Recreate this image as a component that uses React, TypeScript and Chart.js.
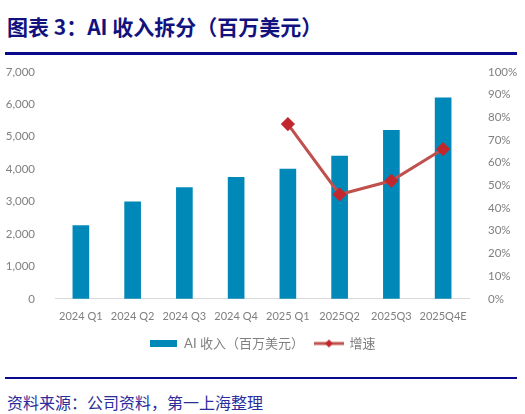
import { useEffect, useRef } from 'react';
import Chart from 'chart.js/auto';

const quarters = ['2024 Q1', '2024 Q2', '2024 Q3', '2024 Q4', '2025 Q1', '2025Q2', '2025Q3', '2025Q4E'];
const aiRevenue = [2260, 2990, 3430, 3750, 4000, 4400, 5200, 6200];
const growth = [null, null, null, null, 0.77, 0.46, 0.52, 0.66];
const leftTicks = [0, 1000, 2000, 3000, 4000, 5000, 6000, 7000];
const rightTicks = [0, 0.1, 0.2, 0.3, 0.4, 0.5, 0.6, 0.7, 0.8, 0.9, 1];

const BAR_COLOR = '#0088B8';
const LINE_COLOR = '#C0504D';
const MARKER_COLOR = '#C0282E';
const TEXT_GRAY = '#7F7F7F';
const NAVY = '#12127F';

const barIcon = () => {
  const c = document.createElement('canvas');
  c.width = 27;
  c.height = 7;
  const ctx = c.getContext('2d')!;
  ctx.fillStyle = BAR_COLOR;
  ctx.fillRect(0, 0, 27, 7);
  return c;
};

const lineIcon = () => {
  const c = document.createElement('canvas');
  c.width = 30;
  c.height = 10;
  const ctx = c.getContext('2d')!;
  ctx.strokeStyle = LINE_COLOR;
  ctx.lineWidth = 3;
  ctx.beginPath();
  ctx.moveTo(0, 5);
  ctx.lineTo(30, 5);
  ctx.stroke();
  ctx.fillStyle = MARKER_COLOR;
  ctx.beginPath();
  ctx.moveTo(15, 1);
  ctx.lineTo(19, 5);
  ctx.lineTo(15, 9);
  ctx.lineTo(11, 5);
  ctx.closePath();
  ctx.fill();
  return c;
};

const RevenueChart = () => {
  const chartRef = useRef<HTMLCanvasElement | null>(null);

  useEffect(() => {
    if (!chartRef.current) return;
    const ctx = chartRef.current.getContext('2d');
    if (!ctx) return;

    const icons = [barIcon(), lineIcon()];
    const font = { family: "Lato, 'Noto Sans CJK SC', sans-serif", size: 11.5 };

    const chart = new Chart(ctx, {
      type: 'bar',
      data: {
        labels: quarters,
        datasets: [
          {
            type: 'bar',
            label: 'AI 收入（百万美元）',
            data: aiRevenue,
            backgroundColor: BAR_COLOR,
            barThickness: 16,
            yAxisID: 'y',
            order: 1,
          },
          {
            type: 'line',
            label: '增速',
            data: growth,
            borderColor: LINE_COLOR,
            borderWidth: 3,
            pointStyle: 'rectRot',
            pointRadius: 5,
            pointBackgroundColor: MARKER_COLOR,
            pointBorderColor: MARKER_COLOR,
            yAxisID: 'y1',
            order: 0,
          },
        ],
      },
      options: {
        animation: false,
        responsive: true,
        maintainAspectRatio: false,
        layout: { padding: { top: 8, left: 0, right: 0, bottom: 0 } },
        scales: {
          x: {
            grid: { display: false },
            border: { color: '#D9D9D9', width: 1 },
            ticks: {
              color: TEXT_GRAY,
              font: { family: "Lato, 'Noto Sans CJK SC', sans-serif", size: 11 },
              padding: 3,
              maxRotation: 0,
              autoSkip: false,
            },
          },
          y: {
            position: 'left',
            min: 0,
            max: 7000,
            grid: { display: false },
            border: { display: false },
            afterBuildTicks: (scale) => {
              scale.ticks = leftTicks.map((v) => ({ value: v }));
            },
            afterFit: (scale) => {
              scale.width = 55;
            },
            ticks: {
              color: TEXT_GRAY,
              font,
              padding: 12,
              callback: (v) => Number(v).toLocaleString('en-US'),
            },
          },
          y1: {
            position: 'right',
            min: 0,
            max: 1,
            grid: { display: false },
            border: { display: false },
            afterBuildTicks: (scale) => {
              scale.ticks = rightTicks.map((v) => ({ value: v }));
            },
            afterFit: (scale) => {
              scale.width = 56;
            },
            ticks: {
              color: TEXT_GRAY,
              font,
              padding: 11,
              callback: (v) => Math.round(Number(v) * 100) + '%',
            },
          },
        },
        plugins: {
          tooltip: { enabled: false },
          legend: {
            position: 'bottom',
            labels: {
              usePointStyle: true,
              pointStyleWidth: 28,
              padding: 11,
              color: TEXT_GRAY,
              font: { family: "Lato, 'Noto Sans CJK SC', sans-serif", size: 13 },
              generateLabels: (c) =>
                c.data.datasets.map((ds, i) => ({
                  text: ds.label as string,
                  datasetIndex: i,
                  pointStyle: icons[i],
                  fillStyle: 'transparent',
                  strokeStyle: 'transparent',
                  lineWidth: 0,
                  fontColor: TEXT_GRAY,
                  hidden: false,
                })),
            },
          },
        },
      },
    });

    return () => {
      chart.destroy();
    };
  }, []);

  return (
    <div style={{ position: 'absolute', left: 0, top: 53, width: 525, height: 307 }}>
      <canvas ref={chartRef}></canvas>
    </div>
  );
};

const App = () => {
  return (
    <div
      style={{
        position: 'absolute',
        left: 0,
        top: 0,
        width: 525,
        height: 414,
        background: '#fff',
        overflow: 'hidden',
      }}
    >
      <div
        style={{
          position: 'absolute',
          left: 7,
          top: 12,
          fontFamily: "'Noto Sans CJK SC', sans-serif",
          fontWeight: 700,
          fontSize: 21,
          lineHeight: '28px',
          color: NAVY,
          whiteSpace: 'nowrap',
        }}
      >
        图表 3：AI 收入拆分（百万美元）
      </div>
      <div style={{ position: 'absolute', left: 5, top: 52, width: 512, height: 2.5, background: '#0A0A8C' }} />
      <RevenueChart />
      <div style={{ position: 'absolute', left: 5, top: 376.5, width: 512, height: 2.5, background: '#0A0A8C' }} />
      <div
        style={{
          position: 'absolute',
          left: 7,
          top: 390,
          fontFamily: "'Noto Sans CJK SC', sans-serif",
          fontSize: 16,
          lineHeight: '24px',
          color: '#2B2B9A',
          whiteSpace: 'nowrap',
        }}
      >
        资料来源：公司资料，第一上海整理
      </div>
    </div>
  );
};

export default App;
